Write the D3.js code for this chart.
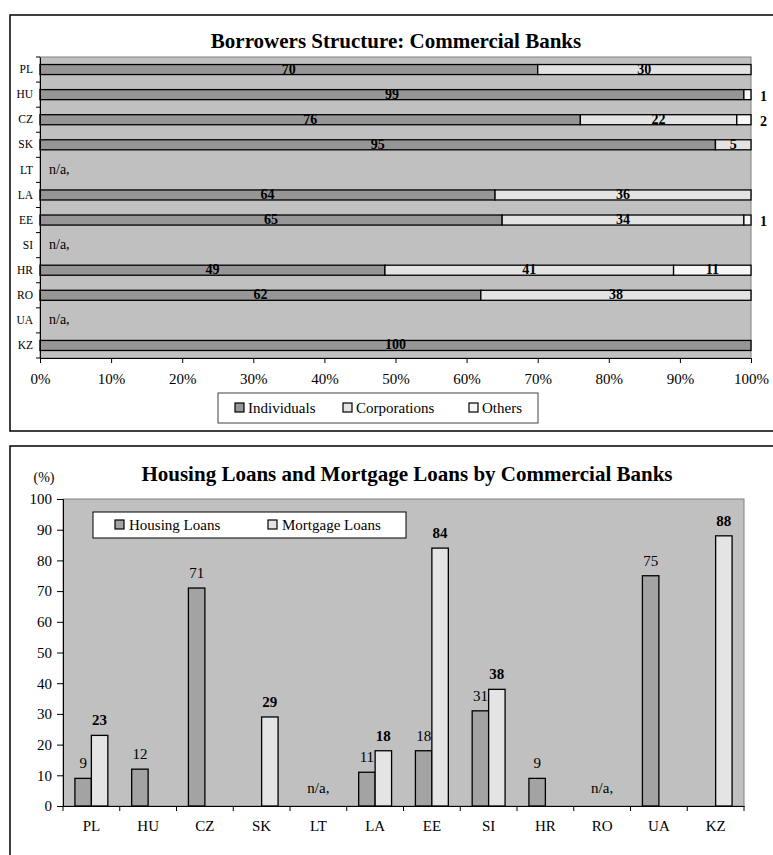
<!DOCTYPE html>
<html>
<head>
<meta charset="utf-8">
<script src="https://cdn.jsdelivr.net/npm/d3@7"></script>
<style>
  html, body { margin: 0; padding: 0; background: #fff; }
  svg { display: block; }
  svg text { font-family: "Times New Roman", "Liberation Serif", Tinos, Times, "DejaVu Serif", serif; fill: #000; }
</style>
</head>
<body>
<svg id="chart" width="773" height="855"></svg>
<script>
// ---- Borrowers structure (shares, %) ----
const borrowerCountries = ["PL", "HU", "CZ", "SK", "LT", "LA", "EE", "SI", "HR", "RO", "UA", "KZ"];
const individuals  = [70, 99, 76, 95, null, 64, 65, null, 49, 62, null, 100];
const corporations = [30, 0, 22, 5, null, 36, 34, null, 41, 38, null, 0];
const others       = [0, 1, 2, 0, null, 0, 1, null, 11, 0, null, 0];
const borrowerSeries = ["Individuals", "Corporations", "Others"];
const shareTicks = [0, 0.1, 0.2, 0.3, 0.4, 0.5, 0.6, 0.7, 0.8, 0.9, 1.0];

// ---- Housing and mortgage loans (%) ----
const loanCountries = ["PL", "HU", "CZ", "SK", "LT", "LA", "EE", "SI", "HR", "RO", "UA", "KZ"];
const housingLoans  = [9, 12, 71, null, null, 11, 18, 31, 9, null, 75, null];
const mortgageLoans = [23, null, null, 29, null, 18, 84, 38, null, null, null, 88];
const loanSeries = ["Housing Loans", "Mortgage Loans"];
const loanTicks = [0, 10, 20, 30, 40, 50, 60, 70, 80, 90, 100];

const svg = d3.select("#chart");
const PLOT_BG = "#c0c0c0";
const FRAME = "#808080";

// strip d3's default sans-serif so the stylesheet font applies to axes
function styleAxis(g, size) {
  g.attr("font-family", null).attr("font-size", null);
  g.select(".domain").attr("stroke", "#000");
  g.selectAll("line").attr("stroke", "#000");
  g.selectAll("text").attr("font-size", size).attr("fill", "#000");
}

// ================= Upper panel =================
const upper = svg.append("g");
upper.append("rect").attr("x", 10).attr("y", 15).attr("width", 800).attr("height", 416)
  .attr("fill", "#fff").attr("stroke", "#000").attr("stroke-width", 1.5);

upper.append("text").attr("x", 396).attr("y", 48).attr("text-anchor", "middle")
  .attr("font-size", 21).attr("font-weight", "bold").text("Borrowers Structure: Commercial Banks");

const tp = { l: 40, r: 751, t: 57, b: 358 };
const tx = d3.scaleLinear().domain([0, 1]).range([tp.l, tp.r]);
const ty = d3.scaleBand().domain(borrowerCountries).range([tp.t, tp.b]).paddingInner(0.6).paddingOuter(0.3);
const upperColors = d3.scaleOrdinal().domain(borrowerSeries).range(["#969696", "#e3e3e3", "#f7f7f7"]);

upper.append("rect").attr("x", tp.l).attr("y", tp.t).attr("width", tp.r - tp.l).attr("height", tp.b - tp.t)
  .attr("fill", PLOT_BG).attr("stroke", FRAME).attr("stroke-width", 1);

const rows = borrowerCountries.map((c, i) => ({
  country: c, Individuals: individuals[i], Corporations: corporations[i], Others: others[i],
  na: individuals[i] === null
}));
const stacked = d3.stack().keys(borrowerSeries).offset(d3.stackOffsetExpand)
  .value((d, k) => d[k] || 0)(rows.filter(r => !r.na));

stacked.forEach(layer => {
  upper.append("g").selectAll("rect").data(layer.filter(s => s[1] - s[0] > 0)).join("rect")
    .attr("x", s => tx(s[0])).attr("width", s => tx(s[1]) - tx(s[0]))
    .attr("y", s => ty(s.data.country)).attr("height", ty.bandwidth())
    .attr("fill", upperColors(layer.key)).attr("stroke", "#000").attr("stroke-width", 1.3);
});

// value labels: inside the segment when it is wide enough, otherwise to the right of the plot
stacked.forEach(layer => {
  layer.forEach(s => {
    const v = s.data[layer.key];
    if (!v) return;
    const w = tx(s[1]) - tx(s[0]);
    const cy = ty(s.data.country) + ty.bandwidth() / 2;
    if (w >= 20) {
      upper.append("text").attr("x", (tx(s[0]) + tx(s[1])) / 2).attr("y", cy + 4)
        .attr("text-anchor", "middle").attr("font-size", 14).attr("font-weight", "bold").text(v);
    } else {
      upper.append("text").attr("x", 760).attr("y", cy + 6)
        .attr("font-size", 14).attr("font-weight", "bold").text(v);
    }
  });
});

rows.filter(r => r.na).forEach(r => {
  upper.append("text").attr("x", 49).attr("y", ty(r.country) + ty.bandwidth() / 2 + 4)
    .attr("font-size", 14).text("n/a,");
});

// category axis
const tyAxis = upper.append("g").attr("transform", `translate(${tp.l},0)`)
  .call(d3.axisLeft(ty).tickSize(0).tickPadding(7));
styleAxis(tyAxis, 11.5);
upper.append("g").selectAll("line").data(d3.range(borrowerCountries.length + 1)).join("line")
  .attr("x1", tp.l - 4).attr("x2", tp.l)
  .attr("y1", i => tp.t + i * ty.step()).attr("y2", i => tp.t + i * ty.step())
  .attr("stroke", "#000");

// share axis
const txAxis = upper.append("g").attr("transform", `translate(0,${tp.b})`)
  .call(d3.axisBottom(tx).tickValues(shareTicks).tickFormat(d3.format(".0%")).tickSize(5).tickPadding(10));
styleAxis(txAxis, 15);

// legend
const tl = upper.append("g");
tl.append("rect").attr("x", 218).attr("y", 393).attr("width", 320).attr("height", 30)
  .attr("fill", "#fff").attr("stroke", "#404040").attr("stroke-width", 1);
const upperLegendX = [235, 343, 469];
borrowerSeries.forEach((k, i) => {
  tl.append("rect").attr("x", upperLegendX[i]).attr("y", 403).attr("width", 9).attr("height", 9)
    .attr("fill", upperColors(k)).attr("stroke", "#000").attr("stroke-width", 1.2);
  tl.append("text").attr("x", upperLegendX[i] + 13).attr("y", 413).attr("font-size", 15).text(k);
});

// ================= Lower panel =================
const lower = svg.append("g");
lower.append("rect").attr("x", 10).attr("y", 446).attr("width", 800).attr("height", 430)
  .attr("fill", "#fff").attr("stroke", "#000").attr("stroke-width", 1.5);

lower.append("text").attr("x", 407).attr("y", 481).attr("text-anchor", "middle")
  .attr("font-size", 21).attr("font-weight", "bold").text("Housing Loans and Mortgage Loans by Commercial Banks");
lower.append("text").attr("x", 44).attr("y", 482).attr("text-anchor", "middle")
  .attr("font-size", 14).text("(%)");

const bp = { l: 63, r: 744, t: 499, b: 806 };
const bx = d3.scaleBand().domain(loanCountries).range([bp.l, bp.r]).paddingInner(0.42).paddingOuter(0.21);
const bx1 = d3.scaleBand().domain(loanSeries).range([0, bx.bandwidth()]);
const by = d3.scaleLinear().domain([0, 100]).range([bp.b, bp.t]);
const lowerColors = d3.scaleOrdinal().domain(loanSeries).range(["#a3a3a3", "#e4e4e4"]);

lower.append("rect").attr("x", bp.l).attr("y", bp.t).attr("width", bp.r - bp.l).attr("height", bp.b - bp.t)
  .attr("fill", PLOT_BG).attr("stroke", FRAME).attr("stroke-width", 1);

const loanRows = loanCountries.map((c, i) => ({ country: c, "Housing Loans": housingLoans[i], "Mortgage Loans": mortgageLoans[i] }));

loanSeries.forEach((k, si) => {
  const data = loanRows.filter(r => r[k] !== null);
  lower.append("g").selectAll("rect").data(data).join("rect")
    .attr("x", d => bx(d.country) + bx1(k)).attr("width", bx1.bandwidth())
    .attr("y", d => by(d[k])).attr("height", d => by(0) - by(d[k]))
    .attr("fill", lowerColors(k)).attr("stroke", "#000").attr("stroke-width", 1.3);
  lower.append("g").selectAll("text").data(data).join("text")
    .attr("x", d => bx(d.country) + bx1(k) + bx1.bandwidth() / 2)
    .attr("y", d => by(d[k]) - 10)
    .attr("text-anchor", "middle").attr("font-size", 15)
    .attr("font-weight", si === 1 ? "bold" : "normal")
    .text(d => d[k]);
});

loanRows.filter(r => r["Housing Loans"] === null && r["Mortgage Loans"] === null).forEach(r => {
  lower.append("text").attr("x", bx(r.country) + bx.bandwidth() / 2).attr("y", by(0) - 13)
    .attr("text-anchor", "middle").attr("font-size", 15).text("n/a,");
});

// value axis
const byAxis = lower.append("g").attr("transform", `translate(${bp.l},0)`)
  .call(d3.axisLeft(by).tickValues(loanTicks).tickSize(6).tickPadding(5));
styleAxis(byAxis, 15);

// category axis with ticks between categories
const bxAxis = lower.append("g").attr("transform", `translate(0,${bp.b})`)
  .call(d3.axisBottom(bx).tickSize(0).tickPadding(14));
styleAxis(bxAxis, 15);
lower.append("g").selectAll("line").data(d3.range(loanCountries.length + 1)).join("line")
  .attr("x1", i => bp.l + i * bx.step()).attr("x2", i => bp.l + i * bx.step())
  .attr("y1", bp.b).attr("y2", bp.b + 5).attr("stroke", "#000");

// legend
const bl = lower.append("g");
bl.append("rect").attr("x", 93).attr("y", 512).attr("width", 313).attr("height", 26)
  .attr("fill", "#fff").attr("stroke", "#000").attr("stroke-width", 1);
const lowerLegendX = [115, 268];
loanSeries.forEach((k, i) => {
  bl.append("rect").attr("x", lowerLegendX[i]).attr("y", 520).attr("width", 9).attr("height", 9)
    .attr("fill", lowerColors(k)).attr("stroke", "#000").attr("stroke-width", 1.2);
  bl.append("text").attr("x", lowerLegendX[i] + 14).attr("y", 530).attr("font-size", 15).text(k);
});
</script>
</body>
</html>
